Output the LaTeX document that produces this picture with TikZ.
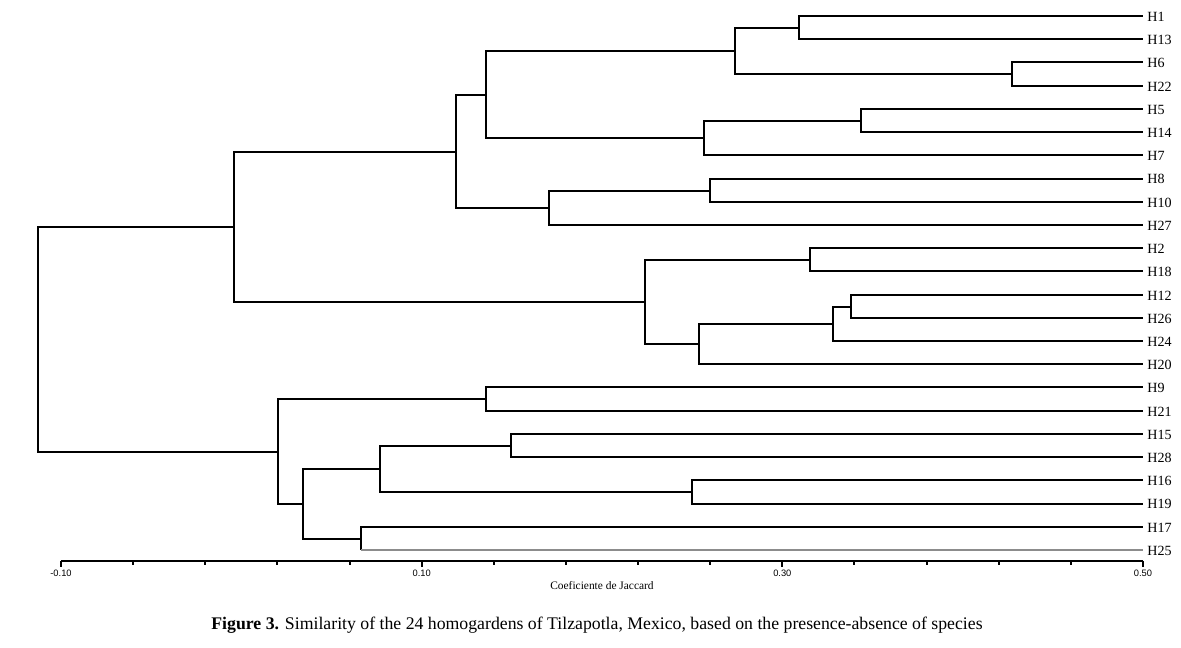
\documentclass[tikz,border=0pt]{standalone}
\usepackage{fontspec}
\setmainfont{Liberation Serif}
\newfontfamily\axisfont{Liberation Sans}
\begin{document}
\begin{tikzpicture}[x=0.02cm,y=-0.02cm,
  branch/.style={line width=1.134pt,black},
  leafline/.style={line width=1.134pt,black!45},
  leaflabel/.style={anchor=west,inner sep=0pt,font=\fontsize{8}{9}\selectfont},
  ticklabel/.style={anchor=north,inner sep=0pt,font=\axisfont\fontsize{5.3}{6}\selectfont},
  axisline/.style={line width=1.134pt,black}]
\useasboundingbox (0,0) rectangle (1181,647);
% leaves
\foreach \n [count=\i from 0] in {H1,H13,H6,H22,H5,H14,H7,H8,H10,H27,H2,H18,H12,H26,H24,H20,H9,H21,H15,H28,H16,H19,H17,H25}{
  \coordinate (\n) at (1143,{round(16+\i*23.217)});
  \node[leaflabel] (l\n) at (1147,{16.8+\i*23.217}) {\n};
}
% internal nodes
\coordinate (n1) at (799,28);
\coordinate (n6) at (1012,74);
\coordinate (nA) at (735,51);
\coordinate (n5) at (861,121);
\coordinate (nB) at (704,138);
\coordinate (nC) at (486,95);
\coordinate (n8) at (710,191);
\coordinate (nD) at (549,208);
\coordinate (nE) at (456,152);
\coordinate (n2) at (810,260);
\coordinate (n12) at (851,307);
\coordinate (nF) at (833,324);
\coordinate (nG) at (699,344);
\coordinate (nH) at (645,302);
\coordinate (nI) at (234,227);
\coordinate (n9) at (486,399);
\coordinate (n15) at (511,446);
\coordinate (n16) at (692,492);
\coordinate (nJ) at (380,469);
\coordinate (n17) at (361,539);
\coordinate (nK) at (303,504);
\coordinate (nL) at (278,452);
\coordinate (root) at (38,340);
% branches
\foreach \p/\c in {root/nI,root/nL,nI/nE,nI/nH,nE/nC,nE/nD,nC/nA,nC/nB,nA/n1,nA/n6,
  n1/H1,n1/H13,n6/H6,n6/H22,nB/n5,nB/H7,n5/H5,n5/H14,nD/n8,nD/H27,n8/H8,n8/H10,
  nH/n2,nH/nG,n2/H2,n2/H18,nG/nF,nG/H20,nF/n12,nF/H24,n12/H12,n12/H26,
  nL/n9,nL/nK,n9/H9,n9/H21,nK/nJ,nK/n17,nJ/n15,nJ/n16,n15/H15,n15/H28,n16/H16,n16/H19,n17/H17}{
  \draw[branch] (\p) |- (\c);
}
\coordinate (c25) at (n17 |- H25);
\draw[branch] (n17) -- (c25);
\draw[leafline] (c25) -- (H25);
% axis
\coordinate (ax0) at (61,561);
\coordinate (ax1) at (1143,561);
\draw[axisline] (ax0) -- (ax1);
\foreach \k in {0,...,15}{
  \draw[axisline] ({round(61+\k*72.133)},561) -- ++(0,4);
}
\foreach \k/\t in {0/-0.10,5/0.10,10/0.30,15/0.50}{
  \draw[axisline] ({round(61+\k*72.133)},561) -- ++(0,6);
  \node[ticklabel] (t\k) at ({61+\k*72.133},570) {\t};
}
\node[font=\fontsize{6.5}{7}\selectfont,inner sep=0pt] (axtitle) at (602,586) {Coeficiente de Jaccard};
\node[font=\fontsize{10.1}{12}\selectfont,inner sep=0pt] (caption) at (597,625) {\textbf{Figure 3.} Similarity of the 24 homogardens of Tilzapotla, Mexico, based on the presence-absence of species};
\end{tikzpicture}
\end{document}
